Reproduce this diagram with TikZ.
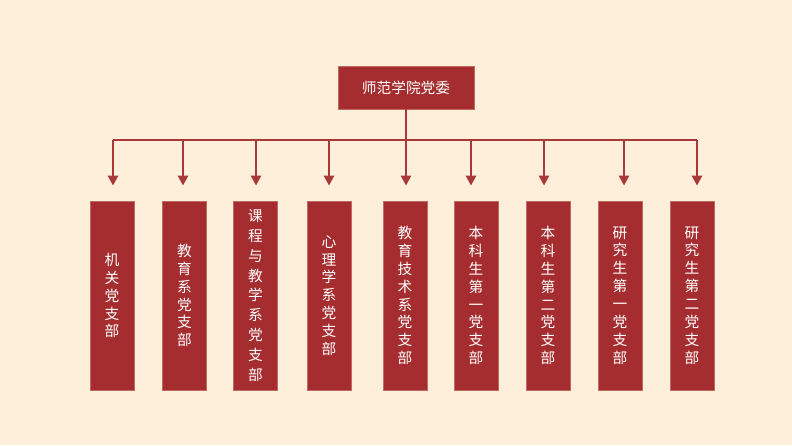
\documentclass[tikz,border=0pt]{standalone}
\usepackage{fontspec}
\newfontfamily\cjk{Noto Sans CJK SC}
\usetikzlibrary{arrows.meta}
\definecolor{cream}{HTML}{FDEFD9}
\definecolor{darkred}{HTML}{A52D2F}
\definecolor{edgered}{HTML}{C46A62}
\definecolor{linered}{HTML}{A83839}
\tikzset{
  box/.style={draw=edgered, line width=0.8pt, fill=darkred, text=white, inner sep=0pt,
    font=\cjk\fontsize{14.7}{17.9}\selectfont},
  branch/.style={box, minimum width=44, minimum height=189, align=center},
  link/.style={draw=linered, line width=2.5pt},
  arr/.style={link, -{Triangle[width=10pt,length=10pt]}, shorten >=15pt}
}
\begin{document}
\begin{tikzpicture}[x=1pt,y=-1pt]
\useasboundingbox[fill=cream] (0,0) rectangle (792,445);
\node[box, minimum width=136, minimum height=43] (top) at (406,87.5) {师范学院党委};

\node[branch] (b1) at (112,295.5) {机\\关\\党\\支\\部};
\node[branch] (b2) at (184.5,295.5) {教\\育\\系\\党\\支\\部};
\node[branch, font=\cjk\fontsize{14.7}{19.8}\selectfont] (b3) at (255.5,295.5) {课\\程\\与\\教\\学\\系\\党\\支\\部};
\node[branch] (b4) at (329,295.5) {心\\理\\学\\系\\党\\支\\部};
\node[branch] (b5) at (405,295.5) {教\\育\\技\\术\\系\\党\\支\\部};
\node[branch] (b6) at (476,295.5) {本\\科\\生\\第\\一\\党\\支\\部};
\node[branch] (b7) at (548,295.5) {本\\科\\生\\第\\二\\党\\支\\部};
\node[branch] (b8) at (620,295.5) {研\\究\\生\\第\\一\\党\\支\\部};
\node[branch] (b9) at (692,295.5) {研\\究\\生\\第\\二\\党\\支\\部};

\foreach \i/\x in {1/113,2/183,3/256,4/329,5/406,6/471,7/544,8/624,9/697}
  \coordinate (s\i) at (\x,140);
\path[link] (top.south) -- (top.south |- s5);
\path[link] (s1) -- (s9);
\foreach \i in {1,...,9}
  \path[arr] (s\i) -- (s\i |- b\i.north);
\end{tikzpicture}
\end{document}
